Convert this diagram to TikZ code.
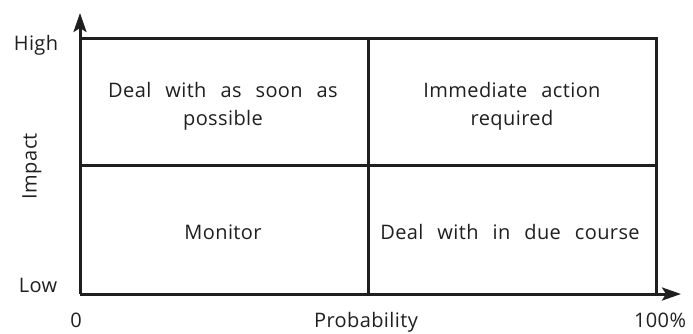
\documentclass[tikz,border=0pt]{standalone}
\usepackage{fontspec}
\setmainfont{Open Sans}[LetterSpace=2,WordSpace=2.5]
\usetikzlibrary{arrows.meta}
\begin{document}
\begin{tikzpicture}[x=1pt,y=-1pt,
  grid/.style={line width=3pt,draw=black!88},
  axis/.style={line width=3pt,draw=black!88,-{Stealth[length=19pt,width=13pt,inset=4pt]}},
  lbl/.style={font=\fontsize{20}{28}\selectfont,text=black!88,align=center,inner sep=0pt},
  bot/.style={lbl,anchor=base}]
\useasboundingbox (0,0) rectangle (693,333);
\coordinate (O) at (80,294);
\coordinate (ytip) at (80,13);
\coordinate (xtip) at (681,294);
\coordinate (TL) at (80,38);
\coordinate (TR) at (656,38);
\coordinate (BR) at (656,294);
\coordinate (MT) at (368,38);
\coordinate (MB) at (368,294);
\coordinate (ML) at (80,165);
\coordinate (MR) at (656,165);
\draw[grid] (TL) -- (TR) -- (BR);
\draw[grid] (MT) -- (MB);
\draw[grid] (ML) -- (MR);
\draw[axis] (O) -- (ytip);
\draw[axis] (O) -- (xtip);
\node[lbl] (q1) at (223,106) {Deal with as soon as\\possible};
\node[lbl] (q2) at (512,106) {Immediate action\\required};
\node[lbl] (q3) at (223,232) {Monitor};
\node[lbl] (q4) at (510,232) {Deal with in due course};
\node[lbl] (high) at (36,45) {High};
\node[lbl] (low) at (38,285) {Low};
\node[bot] (zero) at (76,327) {0};
\node[bot] (prob) at (366,327) {Probability};
\node[bot] (pct) at (660,327) {100\%};
\node[lbl,rotate=90] (imp) at (32,166) {Impact};
\end{tikzpicture}
\end{document}
